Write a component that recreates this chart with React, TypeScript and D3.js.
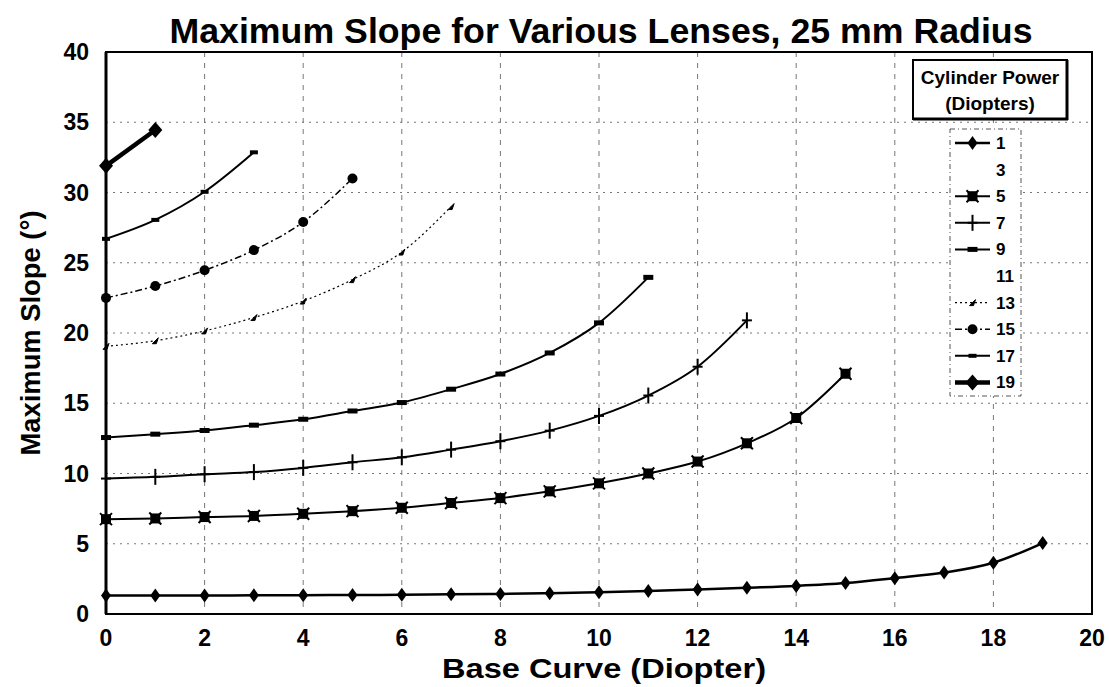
import React from "react";
import * as d3 from "d3";

const W = 1109;
const H = 687;

const xTickValues = [0, 2, 4, 6, 8, 10, 12, 14, 16, 18, 20];
const yTickValues = [0, 5, 10, 15, 20, 25, 30, 35, 40];

const base1 = [0, 1, 2, 3, 4, 5, 6, 7, 8, 9, 10, 11, 12, 13, 14, 15, 16, 17, 18, 19];
const slope1 = [1.32, 1.32, 1.32, 1.33, 1.34, 1.35, 1.37, 1.4, 1.43, 1.48, 1.55, 1.63, 1.75, 1.87, 2.0, 2.2, 2.55, 2.95, 3.65, 5.05];

const base5 = [0, 1, 2, 3, 4, 5, 6, 7, 8, 9, 10, 11, 12, 13, 14, 15];
const slope5 = [6.75, 6.8, 6.9, 6.98, 7.13, 7.32, 7.56, 7.9, 8.25, 8.73, 9.3, 10.0, 10.85, 12.15, 13.95, 17.1];

const base7 = [0, 1, 2, 3, 4, 5, 6, 7, 8, 9, 10, 11, 12, 13];
const slope7 = [9.64, 9.76, 9.95, 10.1, 10.4, 10.8, 11.15, 11.7, 12.3, 13.05, 14.1, 15.55, 17.6, 20.9];

const base9 = [0, 1, 2, 3, 4, 5, 6, 7, 8, 9, 10, 11];
const slope9 = [12.56, 12.8, 13.06, 13.44, 13.86, 14.45, 15.05, 16.0, 17.08, 18.58, 20.72, 23.96];

const base13 = [0, 1, 2, 3, 4, 5, 6, 7];
const slope13 = [19.05, 19.45, 20.15, 21.1, 22.27, 23.8, 25.76, 29.0];

const base15 = [0, 1, 2, 3, 4, 5];
const slope15 = [22.5, 23.34, 24.46, 25.9, 27.9, 31.0];

const base17 = [0, 1, 2, 3];
const slope17 = [26.7, 28.05, 30.05, 32.86];

const base19 = [0, 1];
const slope19 = [31.9, 34.45];

type Marker = "diamond" | "squareX" | "plus" | "dash" | "tri" | "circle" | "smallDash" | "bigDiamond" | "none";

interface Series {
  power: number;
  xs: number[];
  ys: number[];
  marker: Marker;
  width: number;
  dash?: string;
}

const series: Series[] = [
  { power: 1, xs: base1, ys: slope1, marker: "diamond", width: 2.5 },
  { power: 3, xs: [], ys: [], marker: "none", width: 0 },
  { power: 5, xs: base5, ys: slope5, marker: "squareX", width: 2 },
  { power: 7, xs: base7, ys: slope7, marker: "plus", width: 2 },
  { power: 9, xs: base9, ys: slope9, marker: "dash", width: 2 },
  { power: 11, xs: [], ys: [], marker: "none", width: 0 },
  { power: 13, xs: base13, ys: slope13, marker: "tri", width: 1.2, dash: "2 3" },
  { power: 15, xs: base15, ys: slope15, marker: "circle", width: 1.5, dash: "7 3 2 3" },
  { power: 17, xs: base17, ys: slope17, marker: "smallDash", width: 2 },
  { power: 19, xs: base19, ys: slope19, marker: "bigDiamond", width: 4.5 },
];

const left = 106;
const right = 1092;
const top = 52;
const bottom = 614;

const x = d3.scaleLinear().domain([0, 20]).range([left, right]);
const y = d3.scaleLinear().domain([0, 40]).range([bottom, top]);

const FONT = "'Liberation Sans', Arial, Helvetica, sans-serif";

function MarkerShape({ type, cx, cy }: { type: Marker; cx: number; cy: number }) {
  switch (type) {
    case "diamond":
      return <path d={`M${cx},${cy - 7}L${cx + 5},${cy}L${cx},${cy + 7}L${cx - 5},${cy}Z`} fill="#000" />;
    case "bigDiamond":
      return <path d={`M${cx},${cy - 8}L${cx + 7},${cy}L${cx},${cy + 8}L${cx - 7},${cy}Z`} fill="#000" />;
    case "squareX":
      return (
        <g stroke="#000" strokeWidth={2}>
          <rect x={cx - 4} y={cy - 4} width={8} height={8} fill="#000" />
          <line x1={cx - 6} y1={cy - 6} x2={cx + 6} y2={cy + 6} />
          <line x1={cx - 6} y1={cy + 6} x2={cx + 6} y2={cy - 6} />
        </g>
      );
    case "plus":
      return (
        <g stroke="#000" strokeWidth={2}>
          <line x1={cx} y1={cy - 8} x2={cx} y2={cy + 8} />
          <line x1={cx - 5} y1={cy} x2={cx + 5} y2={cy} />
        </g>
      );
    case "dash":
      return <rect x={cx - 5} y={cy - 2.5} width={10} height={5} fill="#000" />;
    case "smallDash":
      return <rect x={cx - 4} y={cy - 2} width={8} height={4} fill="#000" />;
    case "tri":
      return <path d={`M${cx - 3},${cy + 3}L${cx + 3},${cy - 3}L${cx + 1},${cy + 3}Z`} fill="#000" stroke="#000" strokeWidth={1} />;
    case "circle":
      return <circle cx={cx} cy={cy} r={5} fill="#000" />;
    default:
      return null;
  }
}

export default function App() {
  const line = d3
    .line<[number, number]>()
    .x((d) => x(d[0]))
    .y((d) => y(d[1]))
    .curve(d3.curveMonotoneX);

  const legendX0 = 955;
  const legendX1 = 990;
  const legendY0 = 143;
  const legendStep = 26.6;

  return (
    <svg
      width={W}
      height={H}
      style={{ position: "absolute", left: 0, top: 0, display: "block", background: "#fff" }}
      fontFamily={FONT}
    >
      <rect x={0} y={0} width={W} height={H} fill="#fff" />
      {/* Title */}
      <text x={601} y={43} textAnchor="middle" fontSize={35} fontWeight="bold" fill="#000" textLength={863} lengthAdjust="spacingAndGlyphs">
        Maximum Slope for Various Lenses, 25 mm Radius
      </text>

      {/* Gridlines */}
      <g stroke="#777" strokeWidth={1} strokeDasharray="2 5" fill="none">
        {yTickValues
          .filter((v) => v > 0 && v < 40)
          .map((v) => (
            <line key={`gy${v}`} x1={left} x2={right} y1={y(v)} y2={y(v)} />
          ))}
        {xTickValues
          .filter((v) => v > 0 && v < 20)
          .map((v) => (
            <line key={`gx${v}`} x1={x(v)} x2={x(v)} y1={top} y2={bottom} strokeDasharray="5 6" />
          ))}
      </g>

      {/* Frame */}
      <rect x={left} y={top} width={right - left} height={bottom - top} fill="none" stroke="#000" strokeWidth={2} />
      <line x1={left} x2={left} y1={top} y2={bottom} stroke="#000" strokeWidth={3} />

      {/* Series */}
      {series
        .filter((s) => s.xs.length > 0)
        .map((s) => {
          const pts: [number, number][] = s.xs.map((v, i) => [v, s.ys[i]]);
          return (
            <g key={`s${s.power}`}>
              <path d={line(pts) || ""} fill="none" stroke="#000" strokeWidth={s.width} strokeDasharray={s.dash} />
              {pts.map((p, i) => (
                <MarkerShape key={i} type={s.marker} cx={x(p[0])} cy={y(p[1])} />
              ))}
            </g>
          );
        })}

      {/* Y tick labels */}
      {yTickValues.map((v) => (
        <text key={`yl${v}`} x={89} y={y(v) + 8} textAnchor="end" fontSize={23} fontWeight="bold" fill="#000">
          {v}
        </text>
      ))}
      {/* X tick labels */}
      {xTickValues.map((v) => (
        <text key={`xl${v}`} x={x(v)} y={646} textAnchor="middle" fontSize={23} fontWeight="bold" fill="#000">
          {v}
        </text>
      ))}

      {/* Axis titles */}
      <text x={604} y={678} textAnchor="middle" fontSize={28} fontWeight="bold" fill="#000" textLength={324} lengthAdjust="spacingAndGlyphs">
        Base Curve (Diopter)
      </text>
      <text
        transform={`translate(40,333) rotate(-90)`}
        textAnchor="middle"
        fontSize={28}
        fontWeight="bold"
        fill="#000"
        textLength={245}
        lengthAdjust="spacingAndGlyphs"
      >
        Maximum Slope (°)
      </text>

      {/* Legend title box */}
      <rect x={913} y={60} width={154} height={59} fill="#fff" stroke="#000" strokeWidth={2} />
      <line x1={913} x2={1068} y1={119} y2={119} stroke="#000" strokeWidth={3} />
      <line x1={1067} x2={1067} y1={60} y2={120} stroke="#000" strokeWidth={3} />
      <text x={990} y={84} textAnchor="middle" fontSize={19} fontWeight="bold" fill="#000">
        Cylinder Power
      </text>
      <text x={990} y={110} textAnchor="middle" fontSize={19} fontWeight="bold" fill="#000">
        (Diopters)
      </text>

      {/* Legend entries */}
      <rect x={950} y={129} width={71} height={267} fill="#fff" stroke="#555" strokeWidth={1} strokeDasharray="5 3 1 3" />
      {series.map((s, i) => {
        const ly = legendY0 + i * legendStep;
        const mid = (legendX0 + legendX1) / 2;
        return (
          <g key={`lg${s.power}`}>
            {s.xs.length > 0 && (
              <line x1={legendX0} x2={legendX1} y1={ly} y2={ly} stroke="#000" strokeWidth={s.width} strokeDasharray={s.dash} />
            )}
            <MarkerShape type={s.marker} cx={mid} cy={ly} />
            <text x={996} y={ly + 6} fontSize={17} fontWeight="bold" fill="#000">
              {s.power}
            </text>
          </g>
        );
      })}
    </svg>
  );
}
